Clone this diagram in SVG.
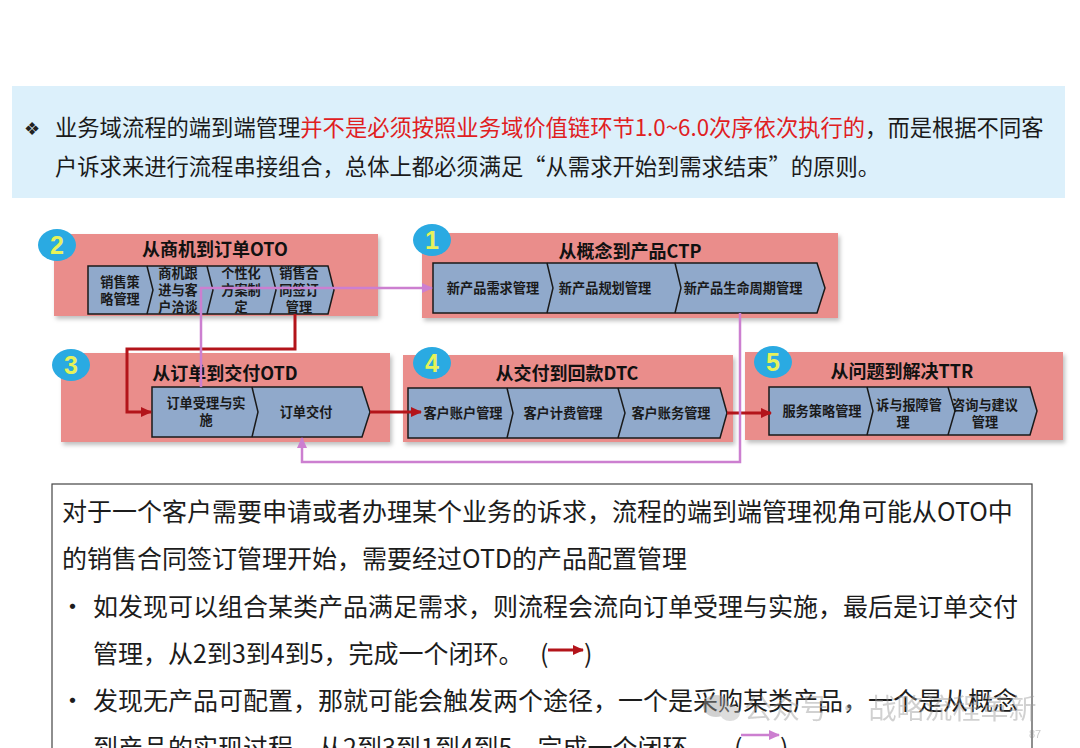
<svg xmlns="http://www.w3.org/2000/svg" width="1080" height="748" viewBox="0 0 1080 748">
<defs>
<style>
.cjk{font-family:"Noto Sans CJK SC","Noto Sans",sans-serif;}
.band{fill:#ea8d8b;}
.row{fill:#90a9cb;stroke:#1a1a1a;stroke-width:1.5;}
.div{fill:none;stroke:#1a1a1a;stroke-width:1.5;}
.title{font-family:"Noto Sans CJK SC","Noto Sans",sans-serif;font-weight:bold;font-size:18px;fill:#111;text-anchor:middle;}
.ct{font-family:"Noto Sans CJK SC","Noto Sans",sans-serif;font-weight:bold;font-size:13.2px;fill:#1a1a1a;text-anchor:middle;}
.badge{fill:#2aaae2;}
.bnum{font-family:"Liberation Sans","Noto Sans",sans-serif;font-weight:bold;font-size:25px;fill:#e6f25a;text-anchor:middle;}
.red{fill:none;stroke:#b3141a;stroke-width:3;}
.pink{fill:none;stroke:#cc7fd0;stroke-width:2.5;}
.body{font-family:"Noto Sans CJK SC","Noto Sans",sans-serif;font-size:25px;fill:#1c1c1c;}
</style>
<filter id="sh" x="-5%" y="-10%" width="115%" height="130%">
<feDropShadow dx="2" dy="3" stdDeviation="2" flood-color="#000" flood-opacity="0.25"/>
</filter>
<marker id="ar" markerUnits="userSpaceOnUse" markerWidth="12" markerHeight="10" refX="10" refY="5" orient="auto">
<path d="M0,0 L11,5 L0,10 Z" fill="#b3141a"/>
</marker>
<marker id="ap" markerUnits="userSpaceOnUse" markerWidth="12" markerHeight="10" refX="10" refY="5" orient="auto">
<path d="M0,0 L11,5 L0,10 Z" fill="#cc7fd0"/>
</marker>
</defs>
<rect width="1080" height="748" fill="#ffffff"/>

<g id="banner">
<rect x="12" y="86" width="1053" height="112" fill="#dcf0fb"/>
<text x="24" y="135" font-family="DejaVu Sans,sans-serif" font-size="18" fill="#222">❖</text>
<text class="cjk" x="55" y="136" font-size="22.3" fill="#1a1a1a">业务域流程的端到端管理<tspan fill="#e0201f">并不是必须按照业务域价值链环节1.0~6.0次序依次执行的</tspan>，而是根据不同客</text>
<text class="cjk" x="55" y="175" font-size="22.3" fill="#1a1a1a">户诉求来进行流程串接组合，总体上都必须满足“从需求开始到需求结束”的原则。</text>
</g>

<g id="oto">
<rect class="band" x="54" y="234" width="324" height="82" filter="url(#sh)"/>
<path class="row" d="M88,266 L328,266 L334,290 L328,314 L88,314 Z"/>
<path class="div" d="M147,266 L153,290 L147,314 M207,266 L213,290 L207,314 M270,266 L276,290 L270,314"/>
<text class="title" x="215" y="256">从商机到订单OTO</text>
<text class="ct" x="120" y="287">销售策</text><text class="ct" x="120" y="304">略管理</text>
<text class="ct" x="178" y="278">商机跟</text><text class="ct" x="178" y="295">进与客</text><text class="ct" x="178" y="312">户洽谈</text>
<text class="ct" x="241" y="278">个性化</text><text class="ct" x="241" y="295">方案制</text><text class="ct" x="241" y="312">定</text>
<text class="ct" x="299" y="278">销售合</text><text class="ct" x="299" y="295">同签订</text><text class="ct" x="299" y="312">管理</text>
<ellipse class="badge" cx="57" cy="245" rx="19" ry="16"/>
<text class="bnum" x="57" y="254">2</text>
</g>

<g id="ctp">
<rect class="band" x="422" y="233" width="416" height="85" filter="url(#sh)"/>
<path class="row" d="M433,263 L817,263 L825,288 L817,313 L433,313 Z"/>
<path class="div" d="M547,263 L553,288 L547,313 M675,263 L681,288 L675,313"/>
<text class="title" x="630" y="258">从概念到产品CTP</text>
<text class="ct" x="493" y="293">新产品需求管理</text>
<text class="ct" x="605" y="293">新产品规划管理</text>
<text class="ct" x="743" y="293">新产品生命周期管理</text>
<ellipse class="badge" cx="432" cy="240" rx="19" ry="16"/>
<text class="bnum" x="432" y="249">1</text>
</g>

<g id="otd">
<rect class="band" x="61" y="353" width="329" height="89" filter="url(#sh)"/>
<path class="row" d="M152,387 L362,387 L370,412 L362,437 L152,437 Z"/>
<path class="div" d="M252,387 L258,412 L252,437"/>
<text class="title" x="225" y="380">从订单到交付OTD</text>
<text class="ct" x="206" y="408">订单受理与实</text>
<text class="ct" x="206" y="425">施</text>
<text class="ct" x="306" y="417">订单交付</text>
<ellipse class="badge" cx="71" cy="365" rx="19" ry="16"/>
<text class="bnum" x="71" y="374">3</text>
</g>

<g id="dtc">
<rect class="band" x="403" y="355" width="330" height="87" filter="url(#sh)"/>
<path class="row" d="M408,388 L720,388 L727,413 L720,438 L408,438 Z"/>
<path class="div" d="M507,388 L513,413 L507,438 M618,388 L625,413 L618,438"/>
<text class="title" x="567" y="380">从交付到回款DTC</text>
<text class="ct" x="463" y="418">客户账户管理</text>
<text class="ct" x="563" y="418">客户计费管理</text>
<text class="ct" x="671" y="418">客户账务管理</text>
<ellipse class="badge" cx="432" cy="363" rx="19" ry="16"/>
<text class="bnum" x="432" y="372">4</text>
</g>

<g id="ttr">
<rect class="band" x="745" y="352" width="318" height="88" filter="url(#sh)"/>
<path class="row" d="M769,387 L1030,387 L1037,411 L1030,435 L769,435 Z"/>
<path class="div" d="M867,387 L873,411 L867,435 M948,387 L955,411 L948,435"/>
<text class="title" x="902" y="378">从问题到解决TTR</text>
<text class="ct" x="822" y="416">服务策略管理</text>
<text class="ct" x="909" y="410">诉与报障管</text>
<text class="ct" x="903" y="427">理</text>
<text class="ct" x="985" y="410">咨询与建议</text>
<text class="ct" x="985" y="427">管理</text>
<ellipse class="badge" cx="773" cy="362" rx="19" ry="16"/>
<text class="bnum" x="773" y="371">5</text>
</g>

<g id="connectors">
<path class="red" d="M295,314 V349 H127 V412 H151" marker-end="url(#ar)"/>
<path class="red" d="M370,412 H421" marker-end="url(#ar)"/>
<path class="red" d="M727,413 H771" marker-end="url(#ar)"/>
<path class="pink" d="M201,387 V288 H432" marker-end="url(#ap)"/>
<path class="pink" d="M740,313 V462 H302 V438" marker-end="url(#ap)"/>
</g>

<g id="note">
<rect x="52" y="484" width="980" height="290" fill="none" stroke="#444" stroke-width="1.2"/>
<text class="body" x="62" y="521">对于一个客户需要申请或者办理某个业务的诉求，流程的端到端管理视角可能从OTO中</text>
<text class="body" x="62" y="568">的销售合同签订管理开始，需要经过OTD的产品配置管理</text>
<text class="body" x="60" y="616">•</text>
<text class="body" x="93" y="616">如发现可以组合某类产品满足需求，则流程会流向订单受理与实施，最后是订单交付</text>
<text class="body" x="93" y="663">管理，从2到3到4到5，完成一个闭环。</text>
<text class="body" x="540" y="663">(</text>
<path class="red" d="M548,650 H583" stroke-width="2.5" marker-end="url(#ar)"/>
<text class="body" x="584" y="663">)</text>
<text class="body" x="60" y="710">•</text>
<text class="body" x="93" y="710">发现无产品可配置，那就可能会触发两个途径，一个是采购某类产品，一个是从概念</text>
<text class="body" x="93" y="757">到产品的实现过程，从2到3到1到4到5，完成一个闭环。</text>
<text class="body" x="734" y="757">(</text>
<path class="pink" d="M741,735 H779" marker-end="url(#ap)"/>
<text class="body" x="780" y="757">)</text>
</g>

<g id="watermark" opacity="0.45">
<ellipse cx="716" cy="706" rx="13" ry="11" fill="#9a9a9a"/>
<ellipse cx="730" cy="713" rx="10" ry="8" fill="#b5b5b5"/>
<text class="cjk" x="744" y="719" font-size="28" fill="#9a9a9a">公众号 · 战略流程革新</text>
<text font-family="Liberation Sans,sans-serif" x="1029" y="738" font-size="11" fill="#888">87</text>
</g>
</svg>
